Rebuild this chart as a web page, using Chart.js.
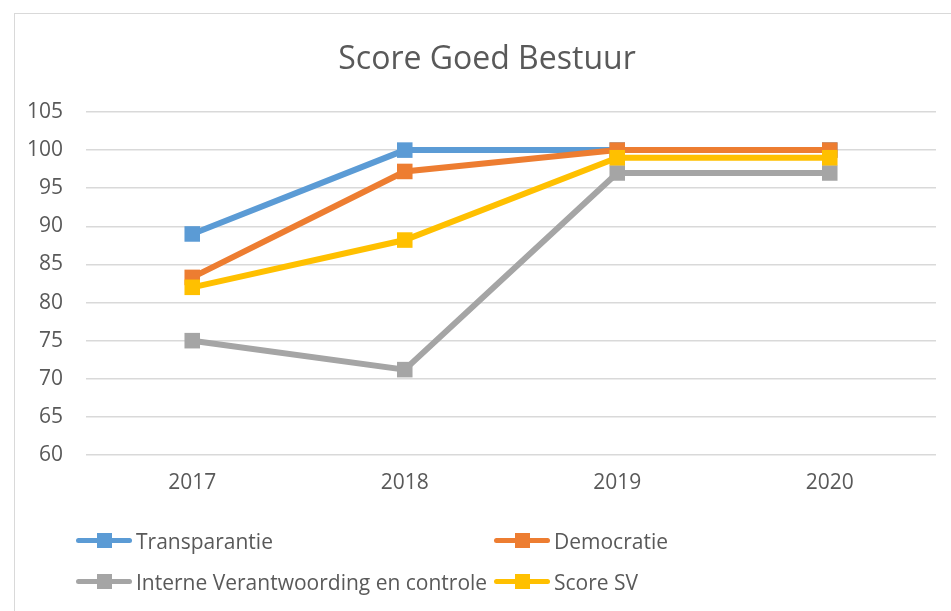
<!DOCTYPE html>
<html>
<head>
<meta charset="utf-8">
<script src="https://cdn.jsdelivr.net/npm/chart.js@4"></script>
<style>
  html, body { margin: 0; padding: 0; background: #fff; overflow: hidden; }
  #frame { position: absolute; left: 14px; top: 13px; width: 1000px; height: 700px; border: 1px solid #d9d9d9; }
  #wrap { position: absolute; left: 0; top: 0; width: 951px; height: 611px; }
  #title { position: absolute; left: 0; top: 37px; width: 974px; height: 40px; line-height: 40px; text-align: center;
           font-family: "Open Sans", sans-serif; font-size: 32px; color: #595959; }
  #legend { position: absolute; left: 0; top: 0; font-family: "Open Sans", sans-serif; font-size: 21px; color: #595959; }
  .item { position: absolute; display: flex; align-items: center; height: 24px; white-space: nowrap; }
  .swatch { position: relative; width: 56px; height: 24px; margin-right: 4px; }
  .swatch .ln { position: absolute; left: 0; right: 0; top: 9px; height: 5px; border-radius: 3px; }
  .swatch .mk { position: absolute; left: 21px; top: 4px; width: 15px; height: 15px; }
</style>
</head>
<body>
<div id="frame"></div>
<div id="wrap"><canvas id="myChart" width="951" height="611"></canvas></div>
<div id="title">Score Goed Bestuur</div>
<div id="legend"></div>
<script>
const years = ['2017', '2018', '2019', '2020'];
const seriesNames = ['Transparantie', 'Democratie', 'Interne Verantwoording en controle', 'Score SV'];
const transparantie = [89, 100, 100, 100];
const democratie = [83.3, 97.2, 100, 100];
const interne = [75, 71.2, 97, 97];
const scoreSV = [82, 88.2, 99, 99];
const colors = ['#5B9BD5', '#ED7D31', '#A5A5A5', '#FFC000'];
const yMin = 60, yMax = 105, yStep = 5;

const values = [transparantie, democratie, interne, scoreSV];

const ctx = document.getElementById('myChart');

let datasets = seriesNames.map((name, i) => ({
  label: name,
  data: values[i],
  borderColor: colors[i],
  backgroundColor: colors[i],
  borderWidth: 6,
  pointStyle: 'rect',
  pointRadius: 11,
  pointHoverRadius: 11,
  pointBorderWidth: 0,
  tension: 0,
  order: seriesNames.length - i   // later series drawn on top, like Excel
}));

let chartdata = {
  type: 'line',
  data: { labels: years, datasets: datasets },
  options: {
    responsive: false,
    animation: false,
    layout: { padding: { left: 0, right: 15, top: 112, bottom: 0 } },
    plugins: {
      legend: { display: false },
      tooltip: { enabled: false },
      title: { display: false }
    },
    scales: {
      x: {
        offset: true,
        grid: { display: false, drawTicks: false },
        border: { display: false },
        ticks: { color: '#595959', padding: 15, font: { family: 'Open Sans', size: 21 } },
        afterFit: (scale) => { scale.height = 156; }
      },
      y: {
        min: yMin,
        max: yMax,
        grid: { color: '#D9D9D9', lineWidth: 1.5, drawTicks: false },
        border: { display: false },
        ticks: { stepSize: yStep, color: '#595959', padding: 23, font: { family: 'Open Sans', size: 21 } },
        afterFit: (scale) => { scale.width = 86; }
      }
    }
  }
};

let mychart = new Chart(ctx, chartdata);

// legend in two columns, built from the series arrays
const legend = document.getElementById('legend');
const legendPos = [[76, 529], [494, 529], [76, 570], [494, 570]];
seriesNames.forEach((name, i) => {
  let item = document.createElement('div');
  item.className = 'item';
  item.style.left = legendPos[i][0] + 'px';
  item.style.top = legendPos[i][1] + 'px';
  item.innerHTML = '<div class="swatch"><div class="ln" style="background:' + colors[i] + '"></div>' +
    '<div class="mk" style="background:' + colors[i] + '"></div></div><span>' + name + '</span>';
  legend.appendChild(item);
});
</script>
</body>
</html>
